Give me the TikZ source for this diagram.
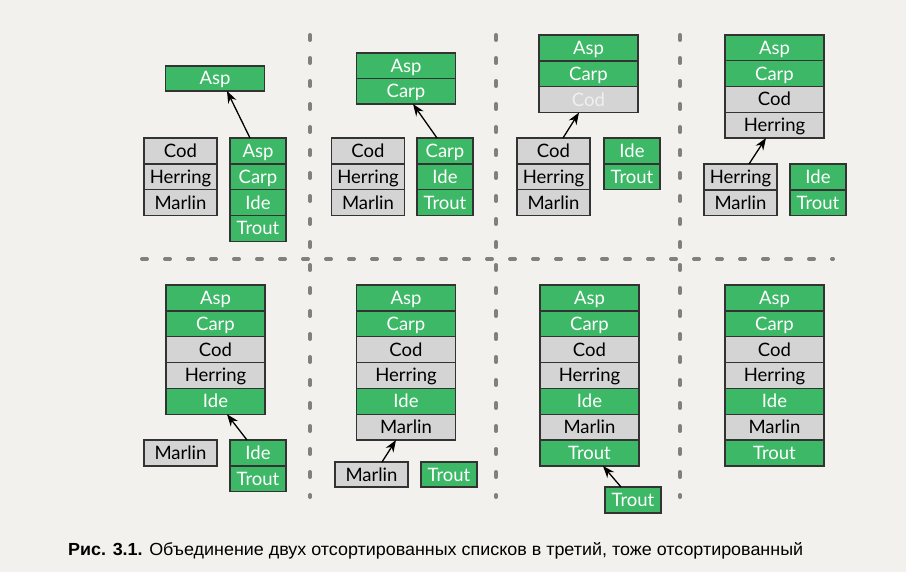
\documentclass[tikz,border=0pt]{standalone}
\usepackage{fontspec}
\usepackage{graphicx}
\setmainfont{Lato}
\newfontfamily\capfont{Liberation Sans}
\usetikzlibrary{arrows.meta}
\definecolor{bg}{RGB}{243,241,237}
\definecolor{fishgreen}{RGB}{61,184,103}
\definecolor{fishgray}{RGB}{212,212,212}
\definecolor{cellborder}{RGB}{51,51,51}
\definecolor{dashgray}{RGB}{128,128,128}
\definecolor{paletext}{RGB}{240,240,240}
\tikzset{
  cell/.style={rectangle, draw=cellborder, line width=1.4pt, inner sep=0pt, outer sep=0pt,
    anchor=north, minimum height=25.85pt, text height=16pt, text depth=3pt,
    font=\fontsize{18.5}{18.5}\selectfont},
  gcell/.style={cell, fill=fishgreen, text=white},
  rcell/.style={cell, fill=fishgray, text=black},
  pcell/.style={cell, fill=fishgray, text=paletext},
  wide/.style={minimum width=99pt},
  mid/.style={minimum width=73pt},
  narrow/.style={minimum width=56pt},
  link/.style={draw=black, line width=1.3pt, -{Stealth[length=12pt,width=9pt]}},
  sep/.style={draw=dashgray, line width=4pt, line cap=round, dash pattern=on 5pt off 18pt},
}
\begin{document}
\begin{tikzpicture}[x=1pt,y=-1pt]
\fill[bg] (0,0) rectangle (906,572);
\useasboundingbox (0,0) rectangle (906,572);

% separators
\draw[sep] (142,259) -- (833,259);
\draw[sep] (310,35) -- (310,497);
\draw[sep] (496,35) -- (496,497);
\draw[sep] (680,35) -- (680,497);

% ---------- panel 1 ----------
\node[gcell, wide, minimum height=25pt] (p1t1) at (215,66) {Asp};
\node[rcell, mid] (p1l1) at (180.5,138) {Cod};
\node[rcell, mid] (p1l2) at (p1l1.south) {Herring};
\node[rcell, mid] (p1l3) at (p1l2.south) {Marlin};
\node[gcell, narrow] (p1r1) at (258,138) {Asp};
\node[gcell, narrow] (p1r2) at (p1r1.south) {Carp};
\node[gcell, narrow] (p1r3) at (p1r2.south) {Ide};
\node[gcell, narrow] (p1r4) at (p1r3.south) {Trout};
\draw[link] ([xshift=-8pt]p1r1.north) -- ([xshift=12pt]p1t1.south);

% ---------- panel 2 ----------
\node[gcell, wide, minimum height=25.5pt] (p2t1) at (406,53) {Asp};
\node[gcell, wide, minimum height=25.5pt] (p2t2) at (p2t1.south) {Carp};
\node[rcell, mid] (p2l1) at (368,138) {Cod};
\node[rcell, mid] (p2l2) at (p2l1.south) {Herring};
\node[rcell, mid] (p2l3) at (p2l2.south) {Marlin};
\node[gcell, narrow] (p2r1) at (445,138) {Carp};
\node[gcell, narrow] (p2r2) at (p2r1.south) {Ide};
\node[gcell, narrow] (p2r3) at (p2r2.south) {Trout};
\draw[link] ([xshift=-8pt]p2r1.north) -- ([xshift=7pt]p2t2.south);

% ---------- panel 3 ----------
\node[gcell, wide] (p3t1) at (588.5,35) {Asp};
\node[gcell, wide] (p3t2) at (p3t1.south) {Carp};
\node[pcell, wide] (p3t3) at (p3t2.south) {Cod};
\node[rcell, mid] (p3l1) at (553.5,138) {Cod};
\node[rcell, mid] (p3l2) at (p3l1.south) {Herring};
\node[rcell, mid] (p3l3) at (p3l2.south) {Marlin};
\node[gcell, narrow] (p3r1) at (632,138) {Ide};
\node[gcell, narrow] (p3r2) at (p3r1.south) {Trout};
\draw[link] ([xshift=9.5pt]p3l1.north) -- ([xshift=-9.5pt]p3t3.south);

% ---------- panel 4 ----------
\node[gcell, wide, minimum height=25.75pt] (p4t1) at (774.5,35) {Asp};
\node[gcell, wide, minimum height=25.75pt] (p4t2) at (p4t1.south) {Carp};
\node[rcell, wide, minimum height=25.75pt] (p4t3) at (p4t2.south) {Cod};
\node[rcell, wide, minimum height=25.75pt] (p4t4) at (p4t3.south) {Herring};
\node[rcell, mid] (p4l1) at (740.5,164) {Herring};
\node[rcell, mid] (p4l2) at (p4l1.south) {Marlin};
\node[gcell, narrow] (p4r1) at (818,164) {Ide};
\node[gcell, narrow] (p4r2) at (p4r1.south) {Trout};
\draw[link] ([xshift=8.5pt]p4l1.north) -- ([xshift=-8.5pt]p4t4.south);

% ---------- panel 5 ----------
\node[gcell, wide] (p5t1) at (215.5,285) {Asp};
\node[gcell, wide] (p5t2) at (p5t1.south) {Carp};
\node[rcell, wide] (p5t3) at (p5t2.south) {Cod};
\node[rcell, wide] (p5t4) at (p5t3.south) {Herring};
\node[gcell, wide] (p5t5) at (p5t4.south) {Ide};
\node[rcell, mid] (p5m) at (180.5,440) {Marlin};
\node[gcell, narrow] (p5r1) at (258,440) {Ide};
\node[gcell, narrow] (p5r2) at (p5r1.south) {Trout};
\draw[link] ([xshift=-11pt]p5r1.north) -- ([xshift=11.5pt]p5t5.south);

% ---------- panel 6 ----------
\node[gcell, wide] (p6t1) at (406,285) {Asp};
\node[gcell, wide] (p6t2) at (p6t1.south) {Carp};
\node[rcell, wide] (p6t3) at (p6t2.south) {Cod};
\node[rcell, wide] (p6t4) at (p6t3.south) {Herring};
\node[gcell, wide] (p6t5) at (p6t4.south) {Ide};
\node[rcell, wide] (p6t6) at (p6t5.south) {Marlin};
\node[rcell, mid, minimum height=25pt] (p6m) at (371.5,462) {Marlin};
\node[gcell, narrow, minimum height=25pt] (p6r) at (449,462) {Trout};
\draw[link] ([xshift=10.5pt]p6m.north) -- ([xshift=-10pt]p6t6.south);

% ---------- panel 7 ----------
\node[gcell, wide] (p7t1) at (589.5,285) {Asp};
\node[gcell, wide] (p7t2) at (p7t1.south) {Carp};
\node[rcell, wide] (p7t3) at (p7t2.south) {Cod};
\node[rcell, wide] (p7t4) at (p7t3.south) {Herring};
\node[gcell, wide] (p7t5) at (p7t4.south) {Ide};
\node[rcell, wide] (p7t6) at (p7t5.south) {Marlin};
\node[gcell, wide] (p7t7) at (p7t6.south) {Trout};
\node[gcell, narrow] (p7r) at (633,487) {Trout};
\draw[link] ([xshift=-12pt]p7r.north) -- ([xshift=13.5pt]p7t7.south);

% ---------- panel 8 ----------
\node[gcell, wide] (p8t1) at (774.5,285) {Asp};
\node[gcell, wide] (p8t2) at (p8t1.south) {Carp};
\node[rcell, wide] (p8t3) at (p8t2.south) {Cod};
\node[rcell, wide] (p8t4) at (p8t3.south) {Herring};
\node[gcell, wide] (p8t5) at (p8t4.south) {Ide};
\node[rcell, wide] (p8t6) at (p8t5.south) {Marlin};
\node[gcell, wide] (p8t7) at (p8t6.south) {Trout};

% caption
\node[anchor=base west, inner sep=0pt, font=\capfont\fontsize{17.5}{17.5}\selectfont] (cap) at (68,555)
  {\resizebox{735pt}{\height}{\textbf{Рис. 3.1.} Объединение двух отсортированных списков в третий, тоже отсортированный}};
\end{tikzpicture}
\end{document}
